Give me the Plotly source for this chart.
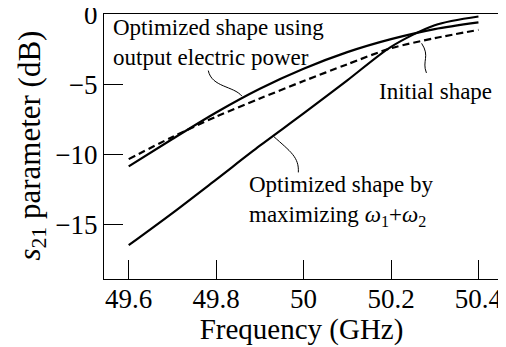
import plotly.graph_objects as go

freq = [49.6, 49.7, 49.8, 49.9, 50.0, 50.1, 50.2, 50.3, 50.4]
s21_power = [-10.86, -8.9, -7.0, -5.3, -3.87, -2.68, -1.75, -1.03, -0.55]
s21_initial = [-10.34, -8.75, -7.3, -6.0, -4.75, -3.55, -2.4, -1.68, -1.09]
s21_maxomega = [-16.5, -14.2, -11.8, -9.38, -7.07, -4.7, -2.3, -0.75, -0.13]

xticks = [49.6, 49.8, 50.0, 50.2, 50.4]
xticklabels = ["49.6", "49.8", "50", "50.2", "50.4"]
yticks = [0, -5, -10, -15]
yticklabels = ["0", "−5", "−10", "−15"]

FONT = "Liberation Serif"

fig = go.Figure()
fig.add_trace(go.Scatter(x=freq, y=s21_power, mode="lines", line=dict(color="black", width=2.2, shape="spline", smoothing=0.8)))
fig.add_trace(go.Scatter(x=freq, y=s21_initial, mode="lines", line=dict(color="black", width=2.2, dash="7px,4px", shape="spline", smoothing=0.8)))
fig.add_trace(go.Scatter(x=freq, y=s21_maxomega, mode="lines", line=dict(color="black", width=2.2, shape="spline", smoothing=0.8)))

# leader lines (curved)
leaders = [
    "M 49.782,-4.00 C 49.79,-5.2 49.84,-5.1 49.859,-5.83",
    "M 50.270,-2.05 C 50.29,-3.0 50.27,-3.3 50.281,-4.17",
    "M 49.931,-8.70 C 49.97,-9.8 49.99,-10.2 49.988,-11.29",
]
for p in leaders:
    fig.add_shape(type="path", path=p, xref="x", yref="y", line=dict(color="black", width=1))

ann_font = dict(family=FONT, size=23, color="black")
fig.add_annotation(x=49.5585, y=-2.02, xref="x", yref="y", text="Optimized shape using<br>output electric power",
                   showarrow=False, xanchor="left", yanchor="middle", align="left", font=ann_font)
fig.add_annotation(x=50.168, y=-5.53, xref="x", yref="y", text="Initial shape",
                   showarrow=False, xanchor="left", yanchor="middle", align="left", font=ann_font)
fig.add_annotation(x=49.871, y=-13.34, xref="x", yref="y",
                   text="Optimized shape by<br>maximizing <i>ω</i><sub>1</sub>+<i>ω</i><sub>2</sub>",
                   showarrow=False, xanchor="left", yanchor="middle", align="left", font=ann_font)

# y-axis title (as rotated annotation for exact placement)
fig.add_annotation(x=-0.182, y=0.504, xref="paper", yref="paper", textangle=-90,
                   text="<i>s</i><sub>21</sub> parameter (dB)", showarrow=False,
                   xanchor="center", yanchor="middle",
                   font=dict(family=FONT, size=31, color="black"))

fig.update_xaxes(range=[49.5435, 50.447], tickvals=xticks, ticktext=xticklabels,
                 ticks="inside", ticklen=19, tickwidth=1, tickcolor="black",
                 showline=True, linecolor="black", linewidth=1.2, mirror=True,
                 showgrid=False, zeroline=False, automargin=False,
                 ticklabelstandoff=-5,
                 tickfont=dict(family=FONT, size=27, color="black"),
                 title=dict(text="Frequency (GHz)", font=dict(family=FONT, size=29, color="black"), standoff=2))
fig.update_yaxes(range=[-18.92, 0.05], tickvals=yticks, ticktext=yticklabels,
                 ticks="inside", ticklen=19, tickwidth=1, tickcolor="black",
                 showline=True, linecolor="black", linewidth=1.2, mirror=True,
                 showgrid=False, zeroline=False, automargin=False,
                 ticklabeloverflow="allow",
                 tickfont=dict(family=FONT, size=27, color="black"))

# page body has an 8px margin, so the figure is drawn 8px smaller and offset
fig.update_layout(width=498, height=339, showlegend=False,
                  margin=dict(l=96, r=7, t=6, b=68),
                  plot_bgcolor="white", paper_bgcolor="white")

fig.write_html("out.html")
